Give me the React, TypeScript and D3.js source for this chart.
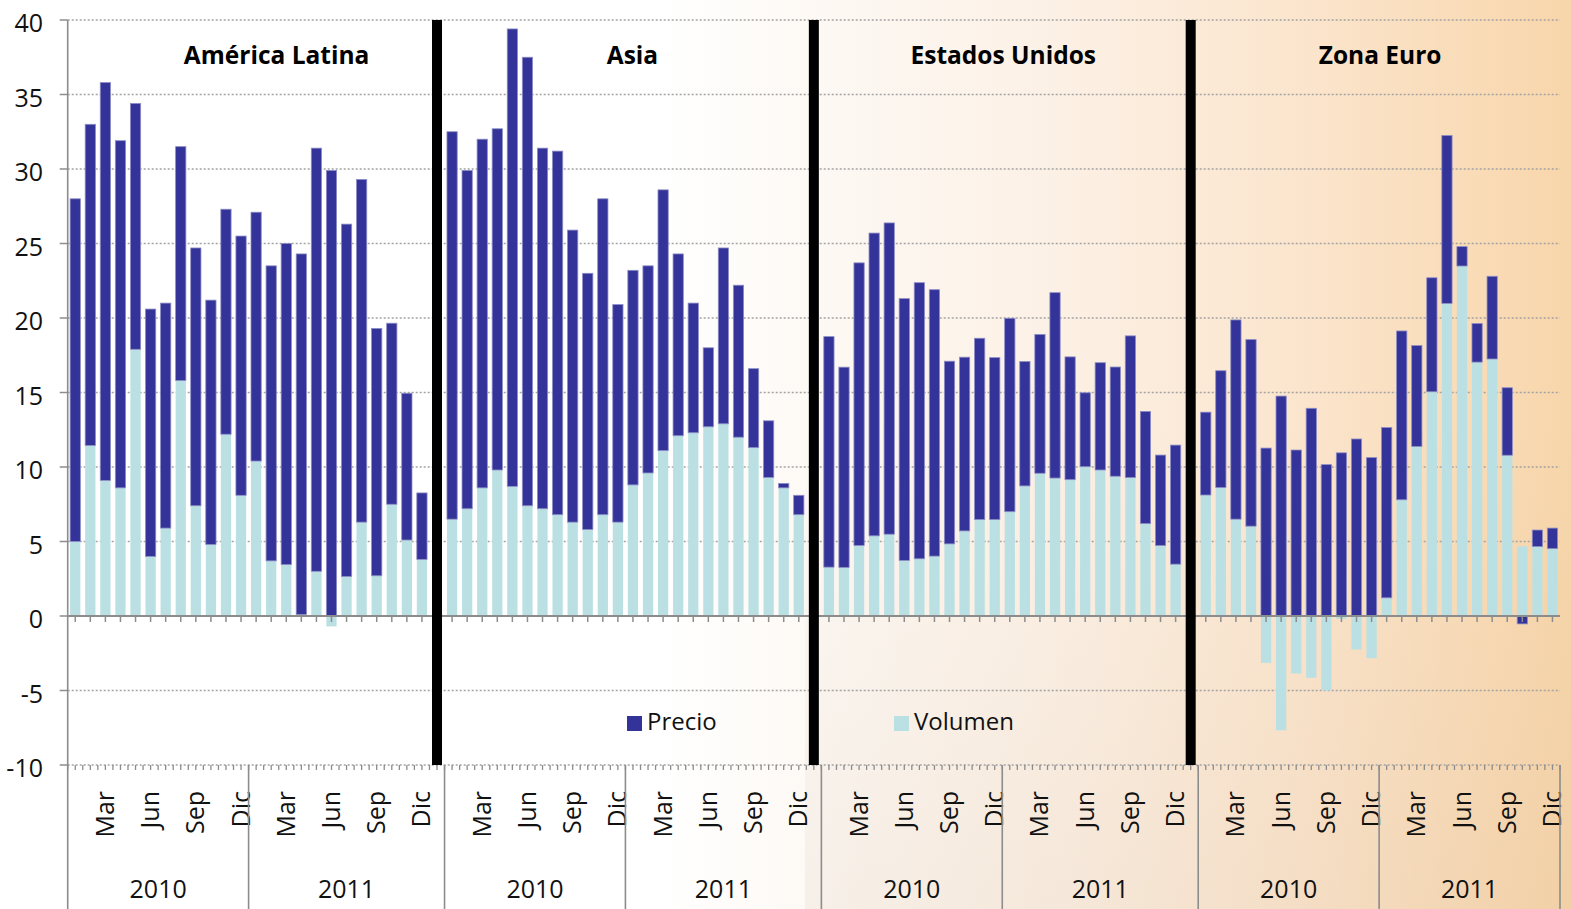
import React from "react";
import * as d3 from "d3";

// ---------- DATA ----------
const regions = ["América Latina", "Asia", "Estados Unidos", "Zona Euro"];
const years = ["2010", "2011"];
const months = ["Ene", "Feb", "Mar", "Abr", "May", "Jun", "Jul", "Ago", "Sep", "Oct", "Nov", "Dic"];
const shownMonths = ["Mar", "Jun", "Sep", "Dic"];
const yTicks = [-10, -5, 0, 5, 10, 15, 20, 25, 30, 35, 40];
const seriesKeys = ["Volumen", "Precio"];

// 24 months (Ene 2010 .. Dic 2011) per region
const volLatam = [5.0, 11.45, 9.1, 8.6, 17.9, 4.0, 5.9, 15.8, 7.4, 4.8, 12.2, 8.1, 10.4, 3.7, 3.45, 0.1, 3.0, -0.7, 2.65, 6.3, 2.7, 7.5, 5.1, 3.8];
const precioLatam = [23.0, 21.55, 26.7, 23.3, 16.5, 16.6, 15.1, 15.7, 17.3, 16.4, 15.1, 17.4, 16.7, 19.8, 21.55, 24.2, 28.4, 29.9, 23.65, 23.0, 16.6, 12.15, 9.85, 4.46];

const volAsia = [6.5, 7.2, 8.6, 9.8, 8.7, 7.4, 7.2, 6.8, 6.3, 5.8, 6.8, 6.3, 8.8, 9.6, 11.1, 12.1, 12.3, 12.7, 12.9, 12.0, 11.3, 9.3, 8.6, 6.8];
const precioAsia = [26.0, 22.7, 23.4, 22.9, 30.7, 30.1, 24.2, 24.4, 19.6, 17.2, 21.2, 14.6, 14.4, 13.9, 17.5, 12.2, 8.7, 5.3, 11.8, 10.2, 5.3, 3.8, 0.3, 1.3];

const volEEUU = [3.28, 3.26, 4.73, 5.38, 5.49, 3.73, 3.84, 4.02, 4.84, 5.71, 6.47, 6.47, 7.0, 8.73, 9.58, 9.26, 9.15, 10.02, 9.8, 9.38, 9.29, 6.2, 4.73, 3.48];
const precioEEUU = [15.47, 13.44, 18.97, 20.32, 20.89, 17.57, 18.53, 17.88, 12.26, 11.66, 12.17, 10.87, 12.98, 8.35, 9.32, 12.44, 8.24, 4.96, 7.2, 7.33, 9.51, 7.53, 6.07, 7.99];

const volEuro = [8.12, 8.62, 6.5, 6.03, -3.15, -7.67, -3.86, -4.15, -5.0, -0.2, -2.25, -2.83, 1.22, 7.8, 11.38, 15.05, 20.98, 23.49, 17.04, 17.25, 10.79, 4.68, 4.66, 4.52];
const precioEuro = [5.56, 7.84, 13.37, 12.52, 11.27, 14.76, 11.14, 13.94, 10.16, 10.95, 11.88, 10.63, 11.43, 11.33, 6.77, 7.65, 11.27, 1.3, 2.59, 5.55, 4.53, -0.53, 1.11, 1.38];

const volumen = [volLatam, volAsia, volEEUU, volEuro];
const precio = [precioLatam, precioAsia, precioEEUU, precioEuro];

// ---------- LAYOUT ----------
const W = 1571;
const H = 909;
const X0 = 67.7;
const X1 = 1560;
const YTOP = 20;
const YBOT = 765;
const FONT = "'Open Sans', 'DejaVu Sans', sans-serif";
const C_PRECIO = "#333399";
const C_VOL = "#bbe0e3";
const C_AXIS = "#8c8c8c";
const C_GRID = "#a3a3a3";
const titleOffsets = [28, 7, 1, 1];

type Row = { key: string; Volumen: number; Precio: number };

const slotKeys: string[] = [];
const rows: Row[] = [];
regions.forEach((r, ri) => {
  years.forEach((y, yi) => {
    months.forEach((m, mi) => {
      const k = `${ri}|${y}|${m}`;
      slotKeys.push(k);
      rows.push({ key: k, Volumen: volumen[ri][yi * 12 + mi], Precio: precio[ri][yi * 12 + mi] });
    });
  });
  if (ri < regions.length - 1) slotKeys.push(`${ri}|sep`);
});

export default function App() {
  const x = d3.scaleBand<string>().domain(slotKeys).range([X0, X1]).paddingInner(0.32).paddingOuter(0.16);
  const y = d3.scaleLinear().domain([-10, 40]).range([YBOT, YTOP]);
  const step = x.step();

  const stacked = d3
    .stack<Row>()
    .keys(seriesKeys)
    .offset(d3.stackOffsetDiverging)(rows);

  const colorOf = (k: string) => (k === "Precio" ? C_PRECIO : C_VOL);

  const zeroTicks = slotKeys.map((k) => (x(k) as number) + x.bandwidth() / 2);
  const bottomTicks = d3.range(0, slotKeys.length * 2 + 1).map((i) => X0 + (i * step) / 2);

  return (
    <svg width={W} height={H} style={{ position: "absolute", left: 0, top: 0, fontFamily: FONT }}>
      <defs>
        <linearGradient id="bg" x1="0" x2="1" y1="0" y2="0">
          <stop offset="0" stopColor="#ffffff" />
          <stop offset="0.42" stopColor="#ffffff" />
          <stop offset="0.53" stopColor="#fdf8f3" />
          <stop offset="0.68" stopColor="#fcf0e4" />
          <stop offset="0.84" stopColor="#fbe4cb" />
          <stop offset="1" stopColor="#f8d6ab" />
        </linearGradient>
        <linearGradient id="shade" x1="0" x2="0" y1="0" y2="1">
          <stop offset="0" stopColor="#b89a7a" stopOpacity="0" />
          <stop offset="1" stopColor="#b89a7a" stopOpacity="0.1" />
        </linearGradient>
      </defs>
      <rect x={0} y={0} width={W} height={H} fill="url(#bg)" />
      <rect x={805} y={420} width={W - 805} height={H - 420} fill="url(#shade)" />

      {/* gridlines */}
      {yTicks
        .filter((t) => t !== 0)
        .map((t) => (
          <line key={`g${t}`} x1={X0} x2={X1} y1={y(t)} y2={y(t)} stroke={C_GRID} strokeWidth={1.5} strokeDasharray="2,2" />
        ))}

      {/* bars */}
      {stacked.map((s) => (
        <g key={s.key}>
          {s.map((d, i) => {
            const y0 = y(d[0]);
            const y1 = y(d[1]);
            const top = Math.min(y0, y1);
            const h = Math.abs(y1 - y0);
            if (h < 0.01) return null;
            return (
              <rect
                key={i}
                x={x(d.data.key)}
                y={top}
                width={x.bandwidth()}
                height={h}
                fill={colorOf(s.key)}
                stroke={s.key === "Precio" ? "#8d8dc6" : "none"}
                strokeWidth={s.key === "Precio" ? 0.8 : 0}
              />
            );
          })}
        </g>
      ))}

      {/* zero axis */}
      <line x1={X0} x2={X1} y1={y(0)} y2={y(0)} stroke={C_AXIS} strokeWidth={2} />
      {zeroTicks.map((tx, i) => (
        <line key={`zt${i}`} x1={tx} x2={tx} y1={y(0)} y2={y(0) + 6} stroke={C_AXIS} strokeWidth={1.5} />
      ))}
      {bottomTicks.map((tx, i) => (
        <line key={`bt${i}`} x1={tx} x2={tx} y1={YBOT} y2={YBOT + 5} stroke={C_AXIS} strokeWidth={1.3} />
      ))}

      {/* black region separators */}
      {slotKeys
        .filter((k) => k.endsWith("sep"))
        .map((k) => (
          <rect key={k} x={(x(k) as number) + x.bandwidth() / 2 - 5} y={YTOP} width={10} height={YBOT - YTOP} fill="#000" />
        ))}

      {/* y axis */}
      <line x1={X0} x2={X0} y1={YTOP} y2={H} stroke={C_AXIS} strokeWidth={1.6} />
      {yTicks.map((t) => (
        <g key={`yt${t}`}>
          <line x1={X0 - 8} x2={X0} y1={y(t)} y2={y(t)} stroke={C_AXIS} strokeWidth={1.5} />
          <text x={43} y={y(t) + 2} textAnchor="end" dominantBaseline="central" fontSize={25} fill="#111">
            {t}
          </text>
        </g>
      ))}

      {/* category axis */}
      {regions.map((r, ri) =>
        years.map((yr, yi) => {
          const firstKey = `${ri}|${yr}|Ene`;
          const start = (x(firstKey) as number) - (step - x.bandwidth()) / 2;
          const nSlots = yi === 1 && ri < regions.length - 1 ? 13 : 12;
          const end = start + nSlots * step;
          return (
            <g key={`${ri}-${yr}`}>
              {shownMonths.map((m) => {
                const k = `${ri}|${yr}|${m}`;
                const cx = (x(k) as number) + x.bandwidth() / 2;
                return (
                  <text key={m} transform={`translate(${cx + 8.5},${791}) rotate(-90)`} textAnchor="end" fontSize={25} fill="#111">
                    {m}
                  </text>
                );
              })}
              <text x={(start + end) / 2} y={898} textAnchor="middle" fontSize={25} fill="#111">
                {yr}
              </text>
              <line x1={end} x2={end} y1={YBOT} y2={H} stroke={C_AXIS} strokeWidth={1.6} />
            </g>
          );
        })
      )}

      {/* region titles */}
      {regions.map((r, ri) => {
        const a = x(`${ri}|2010|Ene`) as number;
        const b = (x(`${ri}|2011|Dic`) as number) + x.bandwidth();
        return (
          <text key={r} x={(a + b) / 2 + titleOffsets[ri]} y={64} textAnchor="middle" fontSize={24.5} fontWeight="bold" fill="#000">
            {r}
          </text>
        );
      })}

      {/* legend */}
      <g>
        <rect x={627} y={716} width={15} height={15} fill={C_PRECIO} />
        <text x={647} y={730} fontSize={24} fill="#111">Precio</text>
        <rect x={894} y={716} width={15} height={15} fill={C_VOL} />
        <text x={914} y={730} fontSize={24} fill="#111">Volumen</text>
      </g>
    </svg>
  );
}
